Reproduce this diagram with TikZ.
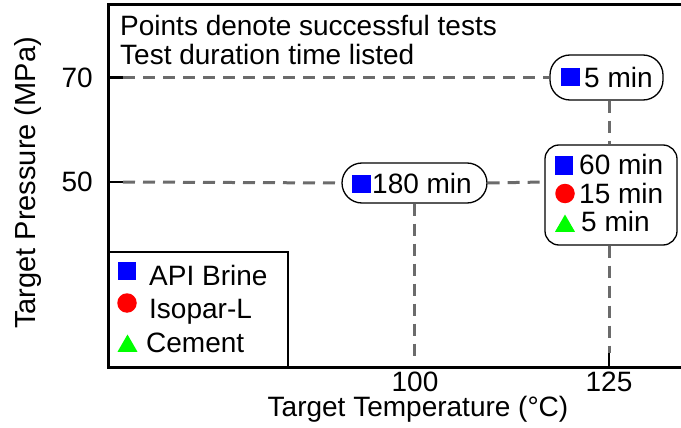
\documentclass[tikz,border=0pt]{standalone}
\usepackage{fontspec}
\setmainfont{Liberation Sans}
\usetikzlibrary{shapes.geometric}
\begin{document}
\begin{tikzpicture}[x=1pt,y=-1pt,
  every node/.style={font=\fontsize{28}{32}\selectfont, inner sep=0pt},
  frame/.style={line width=3pt, line join=miter},
  tickmark/.style={line width=2.5pt},
  guide/.style={draw=black!58, line width=3pt, dash pattern=on 12pt off 8pt},
  callout/.style={draw=black, line width=1.3pt, fill=white, rounded corners=#1},
  sq/.style={fill=blue, minimum size=18.5pt},
  dot/.style={circle, fill=red, minimum size=19.5pt},
  tri/.style={regular polygon, regular polygon sides=3, fill=green, minimum size=23pt},
  lbl/.style={anchor=base west}
]
\useasboundingbox (0,0) rectangle (681,428);

% axis frame (open on the right)
\draw[frame] (681,5) -- (108,5) -- (108,367) -- (681,367);

% ticks
\coordinate (t70) at (123,77.5);
\coordinate (t50) at (123,182);
\coordinate (t125) at (609,353);
\draw[tickmark] (108,77.5) -- (t70);
\draw[tickmark] (108,182) -- (t50);
\draw[tickmark] (609,367) -- (t125);

% tick labels
\node[anchor=east] (l70) at (93,77.5) {70};
\node[anchor=east] (l50) at (93,182) {50};
\node[anchor=base, text depth=0pt] (l100) at (415,391) {100};
\node[anchor=base, text depth=0pt] (l125) at (609,391) {125};

% axis titles
\node[anchor=base, text height=20pt] (xlab) at (418,416) {Target Temperature (°C)};
\node[rotate=90, font=\fontsize{29}{32}\selectfont] (ylab) at (28,183) {Target Pressure (MPa)};

% notes
\node[lbl] (note1) at (120,36) {Points denote successful tests};
\node[lbl] (note2) at (120,65) {Test duration time listed};

% result callouts
\node[callout=20pt, minimum width=113pt, minimum height=45pt] (b5) at (606.5,77.5) {};
\node[callout=20pt, minimum width=145pt, minimum height=40pt] (b180) at (414.5,183) {};
\node[callout=14pt, minimum width=132pt, minimum height=100pt] (bmix) at (611,195) {};

% guide lines
\coordinate (v125) at (609,0);
\coordinate (e100) at (414.5,362);
\draw[guide] (t70) -- (b5.west);
\draw[guide] (t50) -- (b180.west);
\draw[guide] (b180.east) -- (t50 -| bmix.west);
\draw[guide] (b180.south) -- (e100);
\draw[guide] (b5.south -| v125) -- (bmix.north -| v125);
\draw[guide] (bmix.south -| v125) -- (t125);

% callout contents
\node[sq] (m5) at (570.5,77) {};
\node[lbl] (s5) at (584,87.5) {5 min};
\node[sq] (m180) at (361.5,184) {};
\node[lbl] (s180) at (372,193.5) {180 min};
\node[sq] (mb) at (564,165.5) {};
\node[lbl] (s60) at (579,175) {60 min};
\node[dot] (mc) at (565,193.5) {};
\node[lbl] (s15) at (579,203) {15 min};
\node[tri] (mt) at (565,226) {};
\node[lbl] (s5b) at (581,231.5) {5 min};

% legend
\draw[line width=1.5pt] (108,252) rectangle (288,367);
\node[sq] (kb) at (127,271) {};
\node[lbl] (kbl) at (149,285) {API Brine};
\node[dot] (kc) at (127,303) {};
\node[lbl] (kcl) at (149,318) {Isopar-L};
\node[tri] (kt) at (127.5,346) {};
\node[lbl] (ktl) at (146,352) {Cement};
\end{tikzpicture}
\end{document}
